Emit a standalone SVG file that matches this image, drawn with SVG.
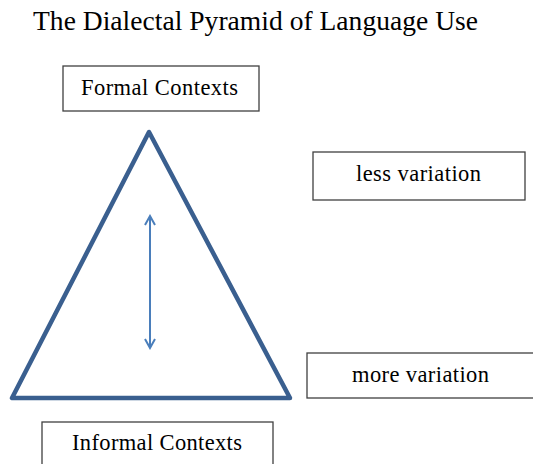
<svg xmlns="http://www.w3.org/2000/svg" width="533" height="464" viewBox="0 0 533 464">
<style>
.box{fill:#fff;stroke:#404040;stroke-width:1.3}
.lbl{font-family:"Liberation Serif",serif;font-size:22.5px;fill:#000;text-anchor:middle}
.title{font-family:"Liberation Serif",serif;font-size:27.5px;fill:#000}
</style>
<defs>
<marker id="chev" viewBox="0 0 12 12" refX="10" refY="6" markerWidth="12" markerHeight="12" markerUnits="userSpaceOnUse" orient="auto-start-reverse">
<path d="M1,1 L10,6 L1,11" fill="none" stroke="#4a7ebb" stroke-width="2"/>
</marker>
</defs>
<rect width="533" height="464" fill="#fff"/>
<text class="title" x="33" y="30" textLength="445" lengthAdjust="spacing">The Dialectal Pyramid of Language Use</text>
<g id="pyramid">
<polygon points="149,132 12,398 290,398" fill="none" stroke="#3a5f8f" stroke-width="4.5" stroke-linejoin="round"/>
</g>
<g id="connectors">
<line x1="150" y1="216" x2="150" y2="348" stroke="#4a7ebb" stroke-width="2" marker-start="url(#chev)" marker-end="url(#chev)"/>
</g>
<g id="formal">
<rect class="box" x="63" y="66" width="196" height="45"/>
<text class="lbl" x="159.5" y="95" textLength="157" lengthAdjust="spacing">Formal Contexts</text>
</g>
<g id="less">
<rect class="box" x="313" y="152" width="212" height="48"/>
<text class="lbl" x="418.5" y="181" textLength="125" lengthAdjust="spacing">less variation</text>
</g>
<g id="more">
<rect class="box" x="307" y="353" width="230" height="45"/>
<text class="lbl" x="420.5" y="382" textLength="137" lengthAdjust="spacing">more variation</text>
</g>
<g id="informal">
<rect class="box" x="42" y="422" width="231" height="50"/>
<text class="lbl" x="157" y="450" textLength="170" lengthAdjust="spacing">Informal Contexts</text>
</g>
</svg>
